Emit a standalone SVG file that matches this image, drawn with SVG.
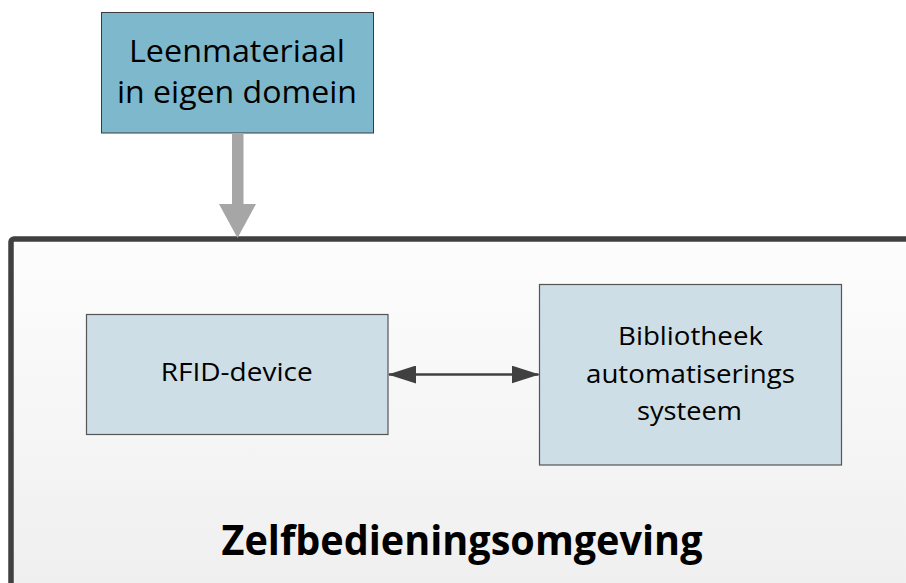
<svg xmlns="http://www.w3.org/2000/svg" width="906" height="583" viewBox="0 0 906 583">
  <defs>
    <linearGradient id="envFill" x1="0" y1="0" x2="0" y2="1">
      <stop offset="0" stop-color="#fdfdfd"/>
      <stop offset="1" stop-color="#eeeeee"/>
    </linearGradient>
    <marker id="head" markerUnits="userSpaceOnUse" markerWidth="28" markerHeight="18" viewBox="0 0 28 18" refX="27" refY="9" orient="auto-start-reverse">
      <path d="M0,0 L28,9 L0,18 Z" fill="#404040"/>
    </marker>
    <style>
      .label { font-family: "Open Sans", "Liberation Sans", sans-serif; fill: #000000; text-anchor: middle; }
      .box-top { fill: #7eb8cd; stroke: #3a3a3a; stroke-width: 1; }
      .box-inner { fill: #cddee6; stroke: #555555; stroke-width: 1.2; }
      .env { fill: url(#envFill); stroke: #404040; stroke-width: 5.5; }
    </style>
  </defs>

  <rect width="906" height="583" fill="#ffffff"/>

  <!-- self-service environment container -->
  <g id="environment">
    <rect class="env" x="11" y="239" width="920" height="380" rx="3"/>
    <text class="label" x="462" y="555" font-size="42" font-weight="bold" textLength="481" lengthAdjust="spacingAndGlyphs">Zelfbedieningsomgeving</text>
  </g>

  <g id="leenmateriaal">
    <rect class="box-top" x="101.5" y="12.5" width="272" height="120.5"/>
    <text class="label" x="237" y="61.5" font-size="31" textLength="216" lengthAdjust="spacingAndGlyphs">Leenmateriaal</text>
    <text class="label" x="237" y="103" font-size="31" textLength="240" lengthAdjust="spacingAndGlyphs">in eigen domein</text>
  </g>

  <g id="rfid-device">
    <rect class="box-inner" x="86.5" y="314.5" width="301.5" height="120"/>
    <text class="label" x="236.7" y="380.7" font-size="25" textLength="152" lengthAdjust="spacingAndGlyphs">RFID-device</text>
  </g>

  <g id="bibliotheek">
    <rect class="box-inner" x="539.5" y="284.5" width="302" height="180.5"/>
    <text class="label" x="690.5" y="345" font-size="25" textLength="145" lengthAdjust="spacingAndGlyphs">Bibliotheek</text>
    <text class="label" x="690.5" y="382.5" font-size="25" textLength="209" lengthAdjust="spacingAndGlyphs">automatiserings</text>
    <text class="label" x="689.5" y="420" font-size="25" textLength="105" lengthAdjust="spacingAndGlyphs">systeem</text>
  </g>

  <g id="connectors">
    <!-- material flows into the environment -->
    <path d="M232,133 L243.5,133 L243.5,204 L256,204 L237.5,238 L219,204 L232,204 Z" fill="#a6a6a6"/>
    <!-- two-way link between device and library system -->
    <line x1="389" y1="374.5" x2="538.5" y2="374.5" stroke="#404040" stroke-width="2.5" marker-start="url(#head)" marker-end="url(#head)"/>
  </g>
</svg>
